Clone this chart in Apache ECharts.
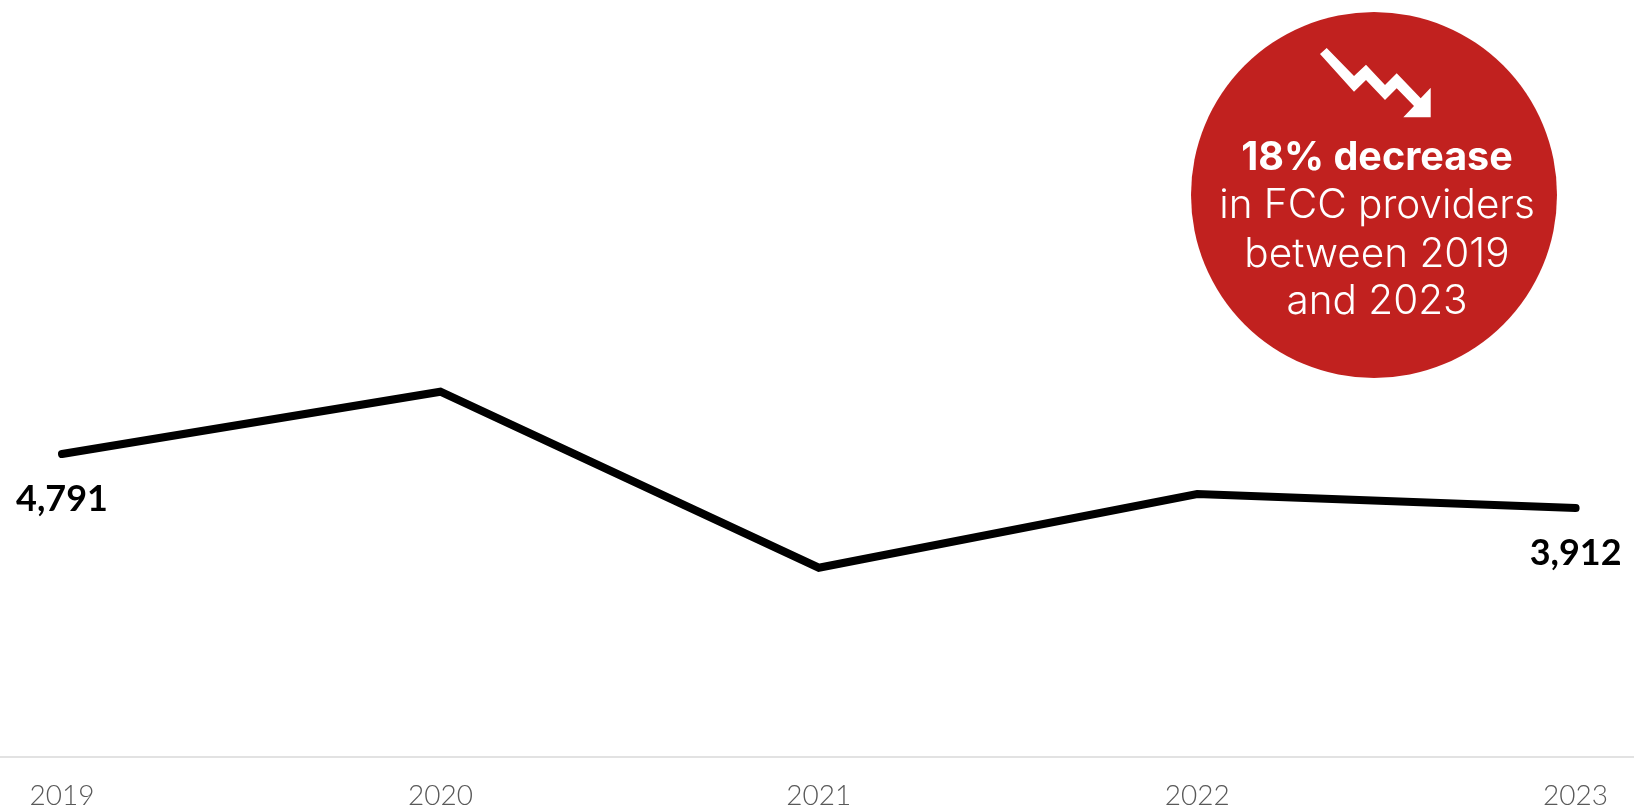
<!DOCTYPE html>
<html><head><meta charset="utf-8">
<style>html,body{margin:0;padding:0;background:#fff}#c{width:1634px;height:812px}</style>
<script src="https://cdn.jsdelivr.net/npm/echarts@6/dist/echarts.min.js"></script>
</head><body><div id="c"></div>
<script>
const years = ['2019','2020','2021','2022','2023'];
const providers = [4791,5805,2940,4140,3912];
const labelledYears = ['2019','2023'];
const calloutLines = ['18% decrease','in FCC providers','between 2019','and 2023'];
const chart = echarts.init(document.getElementById('c'), null, {renderer:'canvas'});
const RED = '#c1211f';
const axisFont = 'Lato';
const calloutFont = 'Inter';
function line(i, y, bold, size){
  return {type:'text', z:12, style:{x:1377, y:y, text:calloutLines[i], fill:'#fff', align:'center', verticalAlign:'middle',
    font:(bold?'700 ':'300 ')+size+'px '+calloutFont}};
}
chart.setOption({
  animation:false,
  backgroundColor:'#fff',
  grid:{left:62-189.2, width:378.4*5, top:0, height:757, containLabel:false, outerBoundsMode:'none'},
  xAxis:{type:'category', data:years, boundaryGap:true,
    axisLine:{show:true, onZero:false, lineStyle:{color:'#d9d9d9', width:1.5}},
    axisTick:{show:false},
    axisLabel:{show:true, color:'#595959', fontFamily:axisFont, fontWeight:300, fontSize:28, margin:25, interval:0}},
  yAxis:{type:'value', min:-140, max:12180, show:false, splitLine:{show:false}},
  series:[{type:'line', symbol:'circle', symbolSize:1, showSymbol:true, showAllSymbol:true, clip:false,
    itemStyle:{color:'#000'},
    lineStyle:{color:'#000', width:8, cap:'round', join:'miter'},
    data:providers.map((v,i)=>({value:v, label:{show:labelledYears.includes(years[i])}})),
    label:{position:'bottom', distance:27, color:'#000', fontFamily:axisFont, fontWeight:700, fontSize:36,
      formatter:p=>p.value.toLocaleString('en-US')}
  }],
  graphic:[
    {type:'circle', z:10, shape:{cx:1374, cy:195, r:183}, style:{fill:RED}},
    {type:'polygon', z:11, shape:{points:[[1320,54],[1326.7,48],[1354,76],[1366,64.7],[1385,85],[1396.7,73.3],[1420.7,98.3],[1430.7,87.7],[1430.7,117.3],[1403.3,117.3],[1414,106],[1396.7,88.3],[1385,100],[1366,80],[1354,91.7]]}, style:{fill:'#fff'}},
    line(0,158,true,39.5), line(1,205.5,false,40.5), line(2,255,false,40.5), line(3,302,false,40.5)
  ]
});
</script></body></html>
